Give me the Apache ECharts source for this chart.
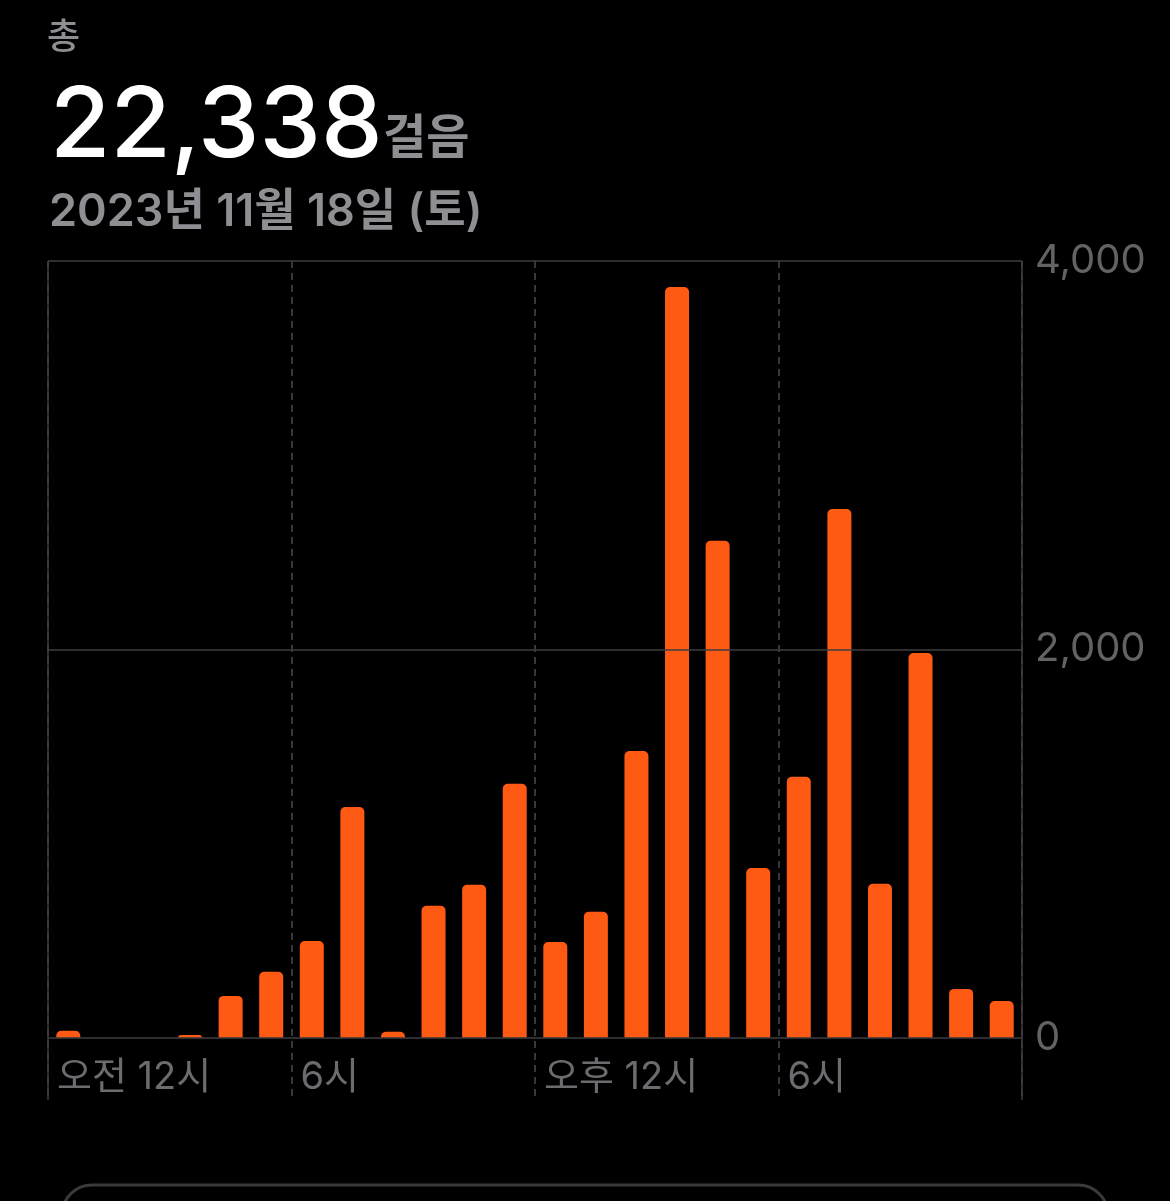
<!DOCTYPE html>
<html>
<head>
<meta charset="utf-8">
<script src="https://cdn.jsdelivr.net/npm/echarts@6/dist/echarts.min.js"></script>
<style>
html,body{margin:0;padding:0;background:#000;}
#main{width:1170px;height:1201px;}
</style>
</head>
<body>
<div id="main"></div>
<script>
// Hourly step counts (hour 0..23)
const hours = [0,1,2,3,4,5,6,7,8,9,10,11,12,13,14,15,16,17,18,19,20,21,22,23];
const steps = [36,0,0,15,216,340,499,1189,31,680,788,1308,494,649,1477,3866,2559,875,1344,2723,793,1982,252,190];
const xTickLabels = {0:'오전 12시', 6:'6시', 12:'오후 12시', 18:'6시'};
const yTickValues = [0, 2000, 4000];
const totalLabel = '22,338';
const unitLabel = '걸음';
const headLabel = '총';
const dateLabel = '2023년 11월 18일 (토)';

const FONT = 'Inter, "Noto Sans CJK KR", sans-serif';
const chart = echarts.init(document.getElementById('main'), null, {renderer:'canvas'});

chart.setOption({
  backgroundColor: '#000',
  animation: false,
  graphic: [
    {type:'text', x:47, y:38, style:{text:headLabel, fill:'#8e8e93', fontSize:36, fontFamily:FONT, fontWeight:500, verticalAlign:'middle'}},
    {type:'text', x:50, y:128, style:{text:totalLabel, fill:'#ffffff', fontSize:98, fontFamily:FONT, fontWeight:500, verticalAlign:'middle'}},
    {type:'text', x:383, y:139, style:{text:unitLabel, fill:'#8e8e93', fontSize:47, fontFamily:FONT, fontWeight:600, verticalAlign:'middle'}},
    {type:'text', x:49, y:212, style:{text:dateLabel, fill:'#8e8e93', fontSize:45, fontFamily:FONT, fontWeight:600, verticalAlign:'middle'}},
    {type:'rect', shape:{x:62, y:1185, width:1046, height:120, r:30}, style:{fill:'none', stroke:'#3a3a3c', lineWidth:3}}
  ],
  grid: {left:48, right:148, top:261, bottom:101},
  xAxis: {
    type:'value', min:0, max:24, interval:6,
    axisLine:{show:false}, axisTick:{show:false},
    splitLine:{show:true, lineStyle:{color:'#4a4a4c', width:1.5, type:[7,5]}},
    axisLabel:{
      inside:true, margin:22, align:'left', verticalAlign:'middle',
      padding:[0,0,0,9],
      color:'#6c6c70', fontSize:38, fontFamily:FONT,
      formatter: v => xTickLabels[v] || ''
    }
  },
  yAxis: {
    type:'value', position:'right', min:-320, max:4000,
    axisLine:{show:false}, axisTick:{show:false}, splitLine:{show:false},
    axisLabel:{
      customValues: yTickValues,
      margin:13, color:'#636366', fontSize:40, fontFamily:FONT,
      padding:[4,0,0,0],
      formatter: v => v.toLocaleString('en-US')
    }
  },
  series: [{
    type:'bar',
    data: hours.map((h,i) => [h + 0.5, steps[i]]),
    barWidth: 24,
    itemStyle: {color:'#FF5A14', borderRadius:[5,5,0,0]},
    markLine: {
      silent:true, symbol:'none', label:{show:false},
      lineStyle:{color:'#3e3e40', width:1.5, type:'solid'},
      data: [{yAxis:0},{yAxis:2000},{yAxis:4000},{xAxis:0},{xAxis:24}]
    }
  }]
});
</script>
</body>
</html>
